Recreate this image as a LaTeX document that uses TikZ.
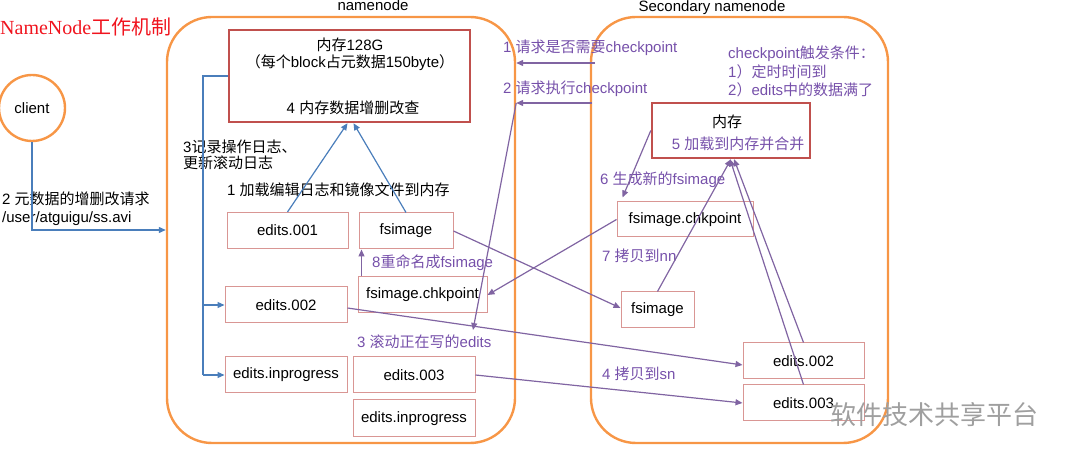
\documentclass[tikz,border=0pt]{standalone}
\usepackage{fontspec}
\setmainfont{Liberation Sans}
\newfontfamily\zhfont{Noto Sans CJK SC}
\newfontfamily\ttlserif{Liberation Serif}
\newcommand{\zh}[1]{{\zhfont #1}}
\usetikzlibrary{arrows.meta}
\definecolor{nodeorange}{RGB}{247,150,70}
\definecolor{memred}{RGB}{192,80,77}
\definecolor{boxpink}{RGB}{217,150,148}
\definecolor{flowblue}{RGB}{74,126,187}
\definecolor{flowpurple}{RGB}{128,100,162}
\definecolor{txtpurple}{RGB}{118,80,170}
\definecolor{ttlred}{RGB}{240,20,30}
\begin{document}
\begin{tikzpicture}[x=1pt,y=-1pt]
	\tikzstyle{every node}+=[inner sep=0pt, font=\fontsize{15}{18}\selectfont]
	\tikzstyle{nodeframe}=[draw=nodeorange, line width=2.4pt, rounded corners=45pt]
	\tikzstyle{membox}=[draw=memred, line width=2.4pt]
	\tikzstyle{filebox}=[draw=boxpink, line width=1pt, minimum height=36pt]
	\tikzstyle{blueflow}=[draw=flowblue, line width=1.2pt, -{Triangle[length=7pt,width=6pt]}]
	\tikzstyle{purpleflow}=[draw=flowpurple, line width=1.2pt, -{Triangle[length=7pt,width=6pt]}]
	\tikzstyle{purplenote}=[text=txtpurple, anchor=west]
	\useasboundingbox (0,0) rectangle (1080,462);

	\node[anchor=west, text=ttlred, font=\fontsize{20}{24}\selectfont] (title) at (0,27) {{\ttlserif NameNode}\zh{工作机制}};
	\node[draw=nodeorange, line width=2.4pt, circle, minimum size=66pt] (client) at (32,108) {client};
	\node[anchor=west, align=left] (req) at (2,209) {2 \zh{元数据的增删改请求}\\/user/atguigu/ss.avi};

	\node[nodeframe, minimum width=348pt, minimum height=426pt] (nn) at (341,230) {};
	\node (nnlabel) at (373,5) {namenode};
	\node[nodeframe, minimum width=297pt, minimum height=426pt] (snn) at (739.5,230) {};
	\node (snnlabel) at (712,8) {Secondary namenode};

	\node[membox, minimum width=241pt, minimum height=92pt] (mem) at (349.5,76) {};
	\node (memtxt1) at (350,45) {\zh{内存}128G};
	\node (memtxt2) at (350,63) {\zh{（每个}block\zh{占元数据}150byte\zh{）}};
	\node (memtxt3) at (353,108) {4 \zh{内存数据增删改查}};
	\node[anchor=west, align=left, font=\fontsize{15}{16}\selectfont] (log) at (183,155) {3\zh{记录操作日志、}\\\zh{更新滚动日志}};
	\node[anchor=west] (load) at (227,190) {1 \zh{加载编辑日志和镜像文件到内存}};

	\node[filebox, minimum width=121pt] (e1) at (287.5,230.5) {edits.001};
	\node[filebox, minimum width=94pt] (fs) at (406,231) {fsimage};
	\node[purplenote] (rename) at (372,263) {8\zh{重命名成}fsimage};
	\node[filebox, minimum width=129pt] (chk) at (422.5,295) {fsimage.chkpoint};
	\node[filebox, minimum width=122pt] (e2) at (286,305) {edits.002};
	\node[purplenote] (roll) at (357,342) {3 \zh{滚动正在写的}edits};
	\node[filebox, minimum width=122pt] (inp1) at (286,375) {edits.inprogress};
	\node[filebox, minimum width=122pt] (e3) at (414,375) {edits.003};
	\node[filebox, minimum width=122pt, minimum height=37pt] (inp2) at (414,418.5) {edits.inprogress};

	\node[purplenote] (ask1) at (503,48) {1 \zh{请求是否需要}checkpoint};
	\node[purplenote] (ask2) at (503,89) {2 \zh{请求执行}checkpoint};
	\node[purplenote, align=left, font=\fontsize{15}{18.5}\selectfont] (cond) at (728,71.5) {checkpoint\zh{触发条件：}\\1\zh{）定时时间到}\\2\zh{）}edits\zh{中的数据满了}};

	\node[membox, minimum width=158pt, minimum height=55pt] (smem) at (731,130.5) {};
	\node (smemtxt) at (727,122) {\zh{内存}};
	\node[text=txtpurple] (smerge) at (738,144) {5 \zh{加载到内存并合并}};
	\node[purplenote] (gen) at (600,180) {6 \zh{生成新的}fsimage};
	\node[filebox, minimum width=136pt, minimum height=35pt] (schk) at (685,219.5) {fsimage.chkpoint};
	\node[purplenote] (copynn) at (602,256) {7 \zh{拷贝到}nn};
	\node[filebox, minimum width=73pt] (sfs) at (657.5,310) {fsimage};
	\node[filebox, minimum width=121pt] (se2) at (803.5,361) {edits.002};
	\node[purplenote] (copysn) at (602,374) {4 \zh{拷贝到}sn};
	\node[filebox, minimum width=121pt] (se3) at (803.5,403) {edits.003};

	\node[anchor=west, text=gray!75, font=\fontsize{26}{30}\selectfont\zhfont] (wm) at (830,415) {软件技术共享平台};

	\draw[blueflow] (client.south) |- (nn.west);
	\coordinate (bus) at (203,76);
	\draw[flowblue, line width=1.2pt] (mem.west) -- (bus) -- (bus |- inp1.west);
	\draw[blueflow] (bus |- e2.west) -- (e2.west);
	\draw[blueflow] (bus |- inp1.west) -- (inp1.west);
	\draw[blueflow] (e1.north) -- ([xshift=-2pt]mem.south);
	\draw[blueflow] (fs.north) -- ([xshift=4pt]mem.south);
	\draw[purpleflow] ([xshift=-61pt]chk.north) -- ([xshift=-61pt]chk.north |- fs.south);

	\coordinate (ask1end) at (595,63);
	\coordinate (ask2end) at (592,103);
	\coordinate (rolltip) at (473,330);
	\draw[purpleflow] (ask1end) -- (ask1end -| nn.east);
	\draw[purpleflow] (ask2end) -- (ask2end -| nn.east);
	\draw[purpleflow] (ask2end -| nn.east) -- (rolltip);
	\draw[purpleflow] (smem.west) -- ([xshift=6pt,yshift=4pt]schk.north west);
	\draw[purpleflow] (schk.west) -- (chk.east);
	\draw[purpleflow] (fs.east) -- ([yshift=2pt]sfs.west);
	\draw[purpleflow] (sfs.north) -- (smem.south);
	\draw[purpleflow] (se2.north) -- ([xshift=3pt]smem.south);
	\draw[purpleflow] (se3.north) -- ([xshift=-1pt]smem.south);
	\draw[purpleflow] ([yshift=-3pt]e2.east) -- ([yshift=-4pt]se2.west);
	\draw[purpleflow] (e3.east) -- (se3.west);
\end{tikzpicture}
\end{document}
